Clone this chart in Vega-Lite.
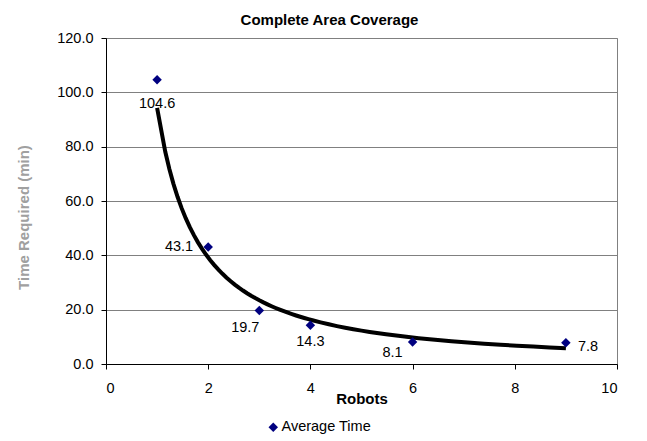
{
  "$schema": "https://vega.github.io/schema/vega-lite/v6.json",
  "width": 511,
  "height": 326,
  "autosize": {"type": "none"},
  "padding": {"left": 106, "top": 38, "right": 30, "bottom": 77},
  "background": "white",
  "config": {
    "font": "Liberation Sans",
    "view": {"stroke": "#808080", "strokeWidth": 1},
    "axis": {"labelFont": "Liberation Sans", "titleFont": "Liberation Sans"}
  },
  "title": {
    "text": "Complete Area Coverage",
    "fontSize": 15,
    "fontWeight": "bold",
    "font": "Liberation Sans",
    "color": "black",
    "anchor": "middle",
    "dx": -32,
    "offset": 2
  },
  "data": {
    "values": [
      {"Robots": 1, "Time": 104.6},
      {"Robots": 2, "Time": 43.1},
      {"Robots": 3, "Time": 19.7},
      {"Robots": 4, "Time": 14.3},
      {"Robots": 6, "Time": 8.1},
      {"Robots": 9, "Time": 7.8}
    ]
  },
  "encoding": {
    "x": {
      "field": "Robots",
      "type": "quantitative",
      "scale": {"domain": [0, 10], "nice": false, "zero": false},
      "axis": {
        "values": [0, 2, 4, 6, 8, 10],
        "title": "Robots",
        "titleFontSize": 15,
        "titleFontWeight": "bold",
        "titleColor": "black",
        "titlePadding": -3,
        "labelFontSize": 14.5,
        "labelColor": "black",
        "labelPadding": 12,
        "tickSize": 5,
        "tickColor": "black",
        "domainColor": "black",
        "grid": false
      }
    },
    "y": {
      "field": "Time",
      "type": "quantitative",
      "scale": {"domain": [0, 120], "nice": false},
      "axis": {
        "values": [0, 20, 40, 60, 80, 100, 120],
        "format": ".1f",
        "title": "Time Required (min)",
        "titleFontSize": 15,
        "titleFontWeight": "bold",
        "titleColor": "#a0a0a0",
        "titleX": -75,
        "titleY": 179,
        "labelFontSize": 14.5,
        "labelColor": "black",
        "labelPadding": 8,
        "tickSize": 5,
        "tickColor": "black",
        "domainColor": "black",
        "grid": true,
        "gridColor": "#808080",
        "gridWidth": 1
      }
    }
  },
  "layer": [
    {
      "transform": [
        {"regression": "Time", "on": "Robots", "method": "pow", "extent": [1, 9]}
      ],
      "mark": {"type": "line", "color": "black", "strokeWidth": 4},
      "encoding": {}
    },
    {
      "mark": {"type": "point", "shape": "diamond", "filled": true, "size": 90, "opacity": 1},
      "encoding": {
        "color": {
          "datum": "Average Time",
          "type": "nominal",
          "scale": {"range": ["#000080"]},
          "legend": {
            "title": null,
            "orient": "none",
            "legendX": 160,
            "legendY": 382,
            "symbolType": "diamond",
            "symbolSize": 90,
            "labelFontSize": 14.5,
            "labelColor": "black",
            "labelFont": "Liberation Sans",
            "labelOffset": 1
          }
        }
      }
    },
    {
      "transform": [{"filter": "datum.Robots == 1"}],
      "mark": {"type": "text", "fontSize": 14.5, "color": "black", "align": "center", "baseline": "middle", "dy": 24},
      "encoding": {"text": {"field": "Time", "type": "quantitative", "format": ".1f"}}
    },
    {
      "transform": [{"filter": "datum.Robots == 2"}],
      "mark": {"type": "text", "fontSize": 14.5, "color": "black", "align": "right", "baseline": "middle", "dx": -15, "dy": 0},
      "encoding": {"text": {"field": "Time", "type": "quantitative", "format": ".1f"}}
    },
    {
      "transform": [{"filter": "datum.Robots == 3"}],
      "mark": {"type": "text", "fontSize": 14.5, "color": "black", "align": "center", "baseline": "middle", "dx": -14, "dy": 18},
      "encoding": {"text": {"field": "Time", "type": "quantitative", "format": ".1f"}}
    },
    {
      "transform": [{"filter": "datum.Robots == 4"}],
      "mark": {"type": "text", "fontSize": 14.5, "color": "black", "align": "center", "baseline": "middle", "dx": 0, "dy": 17},
      "encoding": {"text": {"field": "Time", "type": "quantitative", "format": ".1f"}}
    },
    {
      "transform": [{"filter": "datum.Robots == 6"}],
      "mark": {"type": "text", "fontSize": 14.5, "color": "black", "align": "center", "baseline": "middle", "dx": -20, "dy": 11},
      "encoding": {"text": {"field": "Time", "type": "quantitative", "format": ".1f"}}
    },
    {
      "transform": [{"filter": "datum.Robots == 9"}],
      "mark": {"type": "text", "fontSize": 14.5, "color": "black", "align": "left", "baseline": "middle", "dx": 12, "dy": 4},
      "encoding": {"text": {"field": "Time", "type": "quantitative", "format": ".1f"}}
    }
  ]
}
